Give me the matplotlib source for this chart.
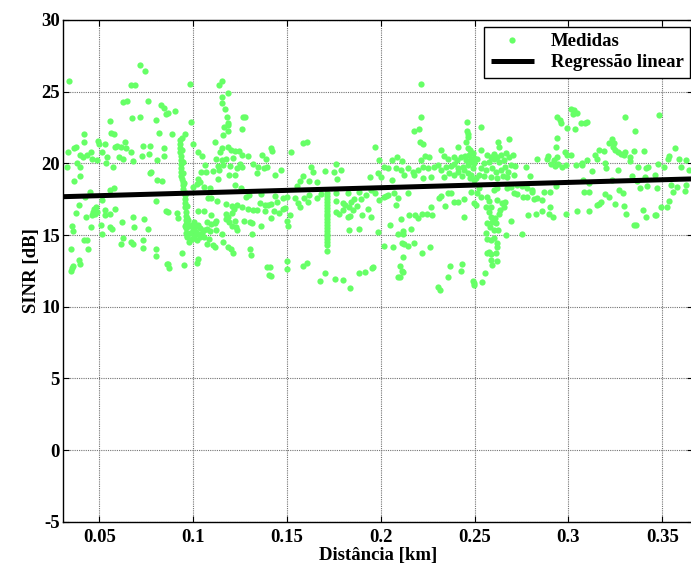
import numpy as np
import matplotlib
matplotlib.use("Agg")
import matplotlib.pyplot as plt

plt.rcParams['font.family'] = ['Liberation Serif', 'DejaVu Serif']
plt.rcParams['font.weight'] = 'bold'
plt.rcParams['axes.unicode_minus'] = False

# Measured SINR points (distance in km, SINR in dB), grouped by distance band
band_1 = [
    (0.0340, 25.77), (0.0715, 26.88), (0.0745, 26.42), (0.0670, 25.44), (0.0692, 25.44),
    (0.0624, 24.26), (0.0647, 24.33), (0.0761, 24.33), (0.0829, 24.07), (0.0846, 23.84), (0.0857, 23.47),
    (0.0557, 22.93), (0.0676, 23.14), (0.0717, 23.21), (0.0800, 23.00), (0.0818, 22.12),
    (0.0564, 22.14), (0.0580, 22.02), (0.0420, 22.02), (0.0420, 21.51), (0.0491, 21.53), (0.0500, 21.35), (0.0528, 21.37),
    (0.0365, 21.05), (0.0376, 21.12), (0.0333, 20.77), (0.0397, 20.60), (0.0415, 20.46), (0.0436, 20.60), (0.0454, 20.77),
    (0.0516, 20.77), (0.0541, 20.46), (0.0461, 20.30), (0.0486, 20.23), (0.0585, 21.12), (0.0594, 21.23),
    (0.0615, 21.12), (0.0638, 21.47), (0.0644, 21.05), (0.0670, 20.77), (0.0607, 20.46), (0.0626, 20.33), (0.0681, 20.19),
    (0.0733, 21.21), (0.0772, 21.21), (0.0727, 20.54), (0.0763, 20.63), (0.0805, 20.26), (0.0843, 21.05), (0.0843, 20.54),
    (0.0328, 19.72), (0.0381, 20.00), (0.0395, 19.72), (0.0534, 20.05), (0.0573, 19.72), (0.0399, 19.14), (0.0363, 18.74),
    (0.0768, 19.35), (0.0777, 19.42), (0.0807, 18.84), (0.0836, 18.74), (0.0555, 18.14), (0.0580, 18.28),
    (0.0448, 17.98), (0.0425, 17.67), (0.0516, 17.42), (0.0802, 17.35), (0.0390, 17.09), (0.0482, 16.95), (0.0472, 16.79),
    (0.0532, 16.72), (0.0585, 16.81), (0.0374, 16.51), (0.0466, 16.63), (0.0479, 16.49), (0.0461, 16.37), (0.0486, 16.61),
    (0.0532, 16.37), (0.0557, 16.44), (0.0427, 16.23), (0.0853, 16.65), (0.0681, 16.23), (0.0738, 16.14), (0.0622, 15.91),
    (0.0353, 15.65), (0.0358, 15.30), (0.0454, 15.53), (0.0511, 15.70), (0.0557, 15.53), (0.0567, 15.42), (0.0686, 15.53),
    (0.0759, 15.40), (0.0516, 15.09), (0.0418, 14.65), (0.0436, 14.65), (0.0624, 14.79), (0.0617, 14.37), (0.0670, 14.51),
    (0.0678, 14.37), (0.0733, 14.65), (0.0733, 14.12), (0.0347, 14.05), (0.0441, 14.05), (0.0800, 14.05), (0.0802, 13.54),
    (0.0393, 13.23), (0.0399, 12.98), (0.0361, 12.84), (0.0354, 12.70), (0.0349, 12.49), (0.0862, 12.98),
]

band_2 = [
    (0.0986, 25.54), (0.1136, 25.44), (0.1155, 25.74), (0.1187, 24.93), (0.1152, 24.65), (0.1156, 24.23), (0.1170, 23.81),
    (0.0864, 23.49), (0.0903, 23.67), (0.0989, 22.86), (0.1182, 23.23), (0.1187, 22.84), (0.1187, 22.65),
    (0.1267, 23.21), (0.1278, 23.21), (0.1262, 22.40), (0.1163, 22.56), (0.1157, 21.95), (0.1184, 22.26),
    (0.0887, 22.05), (0.0957, 22.05), (0.1001, 21.35), (0.1115, 21.47), (0.1024, 20.77), (0.1049, 20.54),
    (0.1143, 20.81), (0.1156, 21.05), (0.1187, 21.12), (0.1200, 20.93), (0.1223, 20.88), (0.1244, 20.88), (0.1262, 20.58), (0.1294, 20.54),
    (0.1122, 20.28), (0.1156, 20.23), (0.1175, 20.28), (0.1214, 20.40), (0.1317, 19.93), (0.1388, 20.33), (0.1365, 20.58),
    (0.1063, 19.86), (0.1134, 19.81), (0.1161, 19.88), (0.1196, 19.81), (0.1250, 19.93), (0.1258, 19.77), (0.1232, 19.65),
    (0.1347, 19.77), (0.1376, 19.65), (0.1392, 19.72), (0.1042, 19.42), (0.1068, 19.37), (0.1104, 19.44), (0.1140, 19.53),
    (0.1191, 19.16), (0.1223, 19.19), (0.1338, 19.35), (0.1131, 18.93), (0.1028, 18.91), (0.1035, 18.67), (0.1021, 18.53), (0.0999, 18.37),
    (0.1223, 18.47), (0.1257, 18.26), (0.1060, 18.33), (0.1088, 18.28), (0.1283, 17.67), (0.1298, 17.77), (0.1362, 17.86),
    (0.1081, 17.60), (0.1095, 17.58), (0.1127, 17.35), (0.1173, 17.16), (0.1209, 17.02), (0.1232, 17.09), (0.1216, 16.79),
    (0.1262, 16.98), (0.1290, 16.84), (0.1358, 17.26), (0.1383, 17.09), (0.1401, 17.07), (0.1317, 16.74), (0.1338, 16.74), (0.1383, 16.70),
    (0.1028, 16.70), (0.1056, 16.70), (0.1095, 16.40), (0.1177, 16.44), (0.1187, 16.28), (0.1205, 16.51),
    (0.1124, 15.95), (0.1116, 15.81), (0.1074, 15.88), (0.1097, 15.74), (0.1173, 16.09), (0.1193, 15.88), (0.1223, 16.00),
    (0.1269, 15.98), (0.1305, 15.88), (0.1315, 15.81), (0.1362, 15.65), (0.0921, 16.16), (0.0916, 16.51), (0.0864, 16.63),
    (0.1205, 15.63), (0.1227, 15.58), (0.1234, 15.35), (0.1120, 15.35), (0.1074, 15.42), (0.1090, 15.30),
    (0.1152, 15.05), (0.1157, 14.51), (0.1314, 15.05), (0.1035, 14.88), (0.1058, 14.88),
    (0.1086, 14.70), (0.1072, 14.37), (0.1104, 14.28), (0.1116, 14.19), (0.1187, 14.19), (0.1200, 14.05), (0.1214, 13.77),
    (0.1303, 14.05), (0.1308, 13.63), (0.1028, 13.30), (0.1022, 13.02), (0.0942, 13.77), (0.0949, 12.88),
    (0.0868, 12.98), (0.0873, 12.70), (0.1395, 12.74), (0.1406, 12.21),
]

# Stationary run near 0.095 km
band_2_streak = [
    (0.0930, 21.63), (0.0930, 21.35), (0.0931, 21.07), (0.0932, 20.79), (0.0935, 20.51), (0.0935, 20.23),
    (0.0936, 19.95), (0.0936, 19.67), (0.0938, 19.40), (0.0938, 19.12), (0.0939, 18.88), (0.0945, 18.70),
    (0.0946, 18.47), (0.0947, 18.23), (0.0948, 18.00), (0.0955, 17.79), (0.0956, 17.49), (0.0957, 17.21),
    (0.0958, 16.93), (0.0962, 16.63), (0.0962, 16.33), (0.0963, 16.05), (0.0963, 15.77), (0.0964, 15.47),
    (0.0964, 15.16), (0.0965, 14.88),
    (0.0942, 21.80), (0.0940, 20.90), (0.0944, 20.10), (0.0946, 19.30), (0.0952, 18.60), (0.0960, 17.90),
    (0.0966, 17.00), (0.0970, 16.20),
    (0.0965, 15.81), (0.0978, 15.63), (0.0992, 15.72), (0.1010, 15.58), (0.1024, 15.67), (0.1035, 15.47),
    (0.0999, 15.35), (0.1017, 15.23), (0.0985, 15.12), (0.0967, 14.93), (0.1006, 14.93), (0.1028, 15.07),
    (0.1045, 15.12), (0.1060, 15.35), (0.0978, 14.53), (0.0992, 14.70), (0.1021, 14.65), (0.0957, 15.63),
    (0.0974, 16.05), (0.1003, 15.93),
]

band_3 = [
    (0.1413, 21.07), (0.1420, 20.88), (0.1523, 20.77), (0.1587, 21.42), (0.1607, 21.51),
    (0.1466, 19.51), (0.1438, 19.21), (0.1626, 19.72), (0.1639, 19.40), (0.1701, 19.44), (0.1763, 19.95), (0.1751, 19.37),
    (0.1790, 19.51), (0.1768, 18.91), (0.1584, 19.12), (0.1570, 18.79), (0.1616, 18.77), (0.1662, 18.70), (0.1944, 19.07),
    (0.1555, 18.42), (0.1438, 17.72), (0.1479, 17.60), (0.1502, 17.67), (0.1541, 17.58), (0.1559, 17.26), (0.1570, 16.98),
    (0.1591, 17.60), (0.1619, 17.77), (0.1614, 17.33), (0.1662, 17.60), (0.1683, 17.86), (0.1761, 17.95), (0.1763, 17.35),
    (0.1825, 17.95), (0.1839, 17.30), (0.1855, 17.53), (0.1882, 17.98), (0.1896, 17.49), (0.1921, 17.77),
    (0.1413, 17.14), (0.1445, 17.28), (0.1431, 16.70), (0.1456, 16.56), (0.1479, 16.79), (0.1413, 16.16),
    (0.1491, 16.86), (0.1514, 16.37), (0.1502, 16.00), (0.1506, 15.63),
    (0.1800, 17.21), (0.1811, 17.09), (0.1832, 16.98), (0.1799, 16.72), (0.1763, 16.63), (0.1776, 16.47), (0.1834, 16.35),
    (0.1827, 16.23), (0.1875, 17.05), (0.1854, 16.74), (0.1902, 16.40), (0.1932, 16.79), (0.1829, 15.35), (0.1882, 15.40),
    (0.1502, 13.19), (0.1502, 12.60), (0.1408, 12.74), (0.1413, 12.14), (0.1587, 12.86), (0.1609, 13.02),
    (0.1704, 12.37), (0.1678, 11.77), (0.1758, 11.93), (0.1797, 11.88), (0.1838, 11.28), (0.1882, 12.33),
    (0.1918, 12.42), (0.1953, 12.70),
]

# Stationary run near 0.171 km
band_3_streak = [
    (0.1713, 17.90), (0.1713, 17.70), (0.1713, 17.50), (0.1713, 17.30), (0.1713, 17.10), (0.1713, 16.90),
    (0.1713, 16.70), (0.1713, 16.50), (0.1713, 16.30), (0.1713, 16.10), (0.1713, 15.90), (0.1713, 15.70),
    (0.1713, 15.50), (0.1713, 15.30), (0.1713, 15.10), (0.1713, 14.90), (0.1714, 14.70), (0.1714, 14.50),
    (0.1714, 14.30), (0.1712, 13.88),
]

band_4 = [
    (0.2214, 25.54), (0.2214, 23.21), (0.2179, 22.26), (0.2202, 22.40), (0.2211, 21.47), (0.2225, 21.35), (0.1969, 21.12),
    (0.2458, 22.86), (0.2460, 22.26), (0.2462, 22.05), (0.2466, 21.81), (0.2456, 21.51), (0.2466, 21.09), (0.2474, 20.93),
    (0.2321, 20.93), (0.2413, 21.12), (0.2058, 20.23), (0.2087, 20.46), (0.2115, 20.19), (0.1991, 20.23),
    (0.2214, 20.23), (0.2236, 20.51), (0.2259, 20.44),
    (0.2339, 20.54), (0.2357, 20.33), (0.2388, 20.46), (0.2406, 20.23), (0.2428, 20.46), (0.2447, 20.51), (0.2481, 20.33), (0.2490, 20.70),
    (0.2015, 19.72), (0.2037, 19.65), (0.2083, 19.65), (0.2108, 19.53),
    (0.2143, 19.65), (0.2170, 19.42), (0.2197, 19.53), (0.2223, 19.77), (0.2250, 19.65), (0.2282, 19.72),
    (0.2303, 19.86), (0.2321, 19.53), (0.2348, 19.72), (0.2374, 19.81), (0.2392, 19.95), (0.2413, 19.65), (0.2436, 19.77),
    (0.2467, 19.88), (0.2490, 19.65),
    (0.1984, 19.30), (0.2001, 19.07), (0.2058, 18.84), (0.2126, 19.19), (0.2179, 19.19), (0.2223, 18.95), (0.2268, 19.02),
    (0.2335, 19.02), (0.2388, 19.19), (0.2431, 19.12), (0.2477, 18.95), (0.2365, 19.35), (0.2413, 19.42),
    (0.1948, 18.14), (0.1969, 17.91), (0.2037, 17.79), (0.2072, 17.95), (0.2090, 17.56), (0.2143, 17.91),
    (0.1992, 17.44), (0.2015, 17.67), (0.2028, 17.72),
    (0.2309, 17.56), (0.2321, 17.72), (0.2357, 17.91), (0.2374, 17.95), (0.2392, 17.33), (0.2410, 17.33), (0.2481, 18.02),
    (0.2342, 17.02), (0.2445, 17.51), (0.2499, 17.21), (0.2268, 16.98), (0.2081, 17.09), (0.1948, 16.28),
    (0.2152, 16.37), (0.2184, 16.37), (0.2197, 16.16), (0.2220, 16.47), (0.2246, 16.47), (0.2275, 16.37),
    (0.2108, 16.14), (0.2049, 15.70), (0.1984, 15.23), (0.2161, 15.40), (0.2094, 15.09), (0.2120, 15.28), (0.2117, 15.07),
    (0.2445, 16.23),
    (0.2019, 14.23), (0.2065, 14.14), (0.2111, 14.47), (0.2126, 14.37), (0.2143, 14.23), (0.2179, 14.42),
    (0.2264, 14.14), (0.2218, 13.77), (0.2118, 13.44), (0.1957, 12.74),
    (0.2104, 12.84), (0.2111, 12.51), (0.2120, 12.42), (0.2101, 12.09), (0.2090, 12.05),
    (0.2371, 12.84), (0.2360, 12.05), (0.2431, 12.98), (0.2428, 12.49), (0.2303, 11.40), (0.2316, 11.16),
    (0.2492, 11.77), (0.2499, 11.49),
    (0.2454, 20.23), (0.2472, 20.58), (0.2481, 20.12), (0.2499, 20.00), (0.2445, 19.53), (0.2463, 19.30),
    (0.2481, 19.19), (0.2495, 18.84),
]

band_5 = [
    (0.2533, 22.56), (0.2685, 21.67), (0.2625, 21.47), (0.2630, 21.12), (0.2536, 20.93), (0.2497, 20.35),
    (0.2568, 20.58), (0.2586, 20.46), (0.2604, 20.65), (0.2621, 20.42), (0.2639, 20.58), (0.2666, 20.74), (0.2682, 20.42), (0.2707, 20.58),
    (0.2515, 20.28), (0.2550, 20.00), (0.2577, 20.12), (0.2604, 20.28), (0.2630, 20.12), (0.2657, 20.23), (0.2696, 19.88), (0.2714, 19.81),
    (0.2533, 19.65), (0.2559, 19.53), (0.2595, 19.65), (0.2612, 19.42), (0.2639, 19.53), (0.2660, 19.72), (0.2680, 19.42),
    (0.2524, 19.19), (0.2550, 19.12), (0.2586, 19.07), (0.2621, 18.95), (0.2650, 19.12), (0.2675, 19.02), (0.2710, 19.19),
    (0.2772, 19.77), (0.2794, 19.14), (0.2834, 20.28), (0.2884, 20.33), (0.2891, 20.51),
    (0.2909, 19.95), (0.2929, 19.81), (0.2946, 19.93), (0.2968, 19.77), (0.2985, 19.88), (0.3016, 20.58), (0.3039, 19.88), (0.3074, 20.00),
    (0.2923, 20.23), (0.2937, 20.46), (0.2980, 20.81), (0.2991, 20.58), (0.2937, 21.74), (0.2932, 21.12),
    (0.2941, 23.21), (0.2959, 22.79), (0.2955, 23.00), (0.3012, 23.81), (0.3030, 23.72), (0.3048, 23.49), (0.3026, 23.44), (0.3065, 22.84),
    (0.2994, 22.44), (0.3033, 22.40),
    (0.2506, 18.95), (0.2524, 18.26), (0.2511, 17.91), (0.2533, 17.63), (0.2506, 17.09),
    (0.2564, 17.63), (0.2577, 17.40), (0.2559, 16.98), (0.2586, 16.98), (0.2577, 16.63),
    (0.2604, 18.14), (0.2621, 18.26), (0.2671, 18.30), (0.2696, 18.37), (0.2724, 18.49), (0.2755, 18.42), (0.2781, 18.26),
    (0.2808, 18.14), (0.2831, 17.56), (0.2808, 18.02),
    (0.2621, 17.44), (0.2644, 17.26), (0.2660, 17.33), (0.2636, 16.74), (0.2630, 16.47), (0.2657, 16.98),
    (0.2710, 17.95), (0.2724, 17.86), (0.2760, 17.63), (0.2781, 17.67), (0.2817, 17.49),
    (0.2586, 16.28), (0.2595, 15.93), (0.2607, 16.16), (0.2568, 15.86), (0.2582, 15.58), (0.2612, 15.81), (0.2604, 15.35), (0.2625, 15.35),
    (0.2696, 16.00), (0.2666, 15.00), (0.2755, 15.05),
    (0.2787, 16.40), (0.2826, 16.47), (0.2861, 16.70), (0.2902, 16.98), (0.2920, 16.23), (0.2897, 16.47), (0.2985, 16.44), (0.3048, 16.70),
    (0.2861, 17.44), (0.2870, 18.02), (0.2932, 18.42), (0.2902, 18.02),
    (0.2559, 15.12), (0.2568, 14.70), (0.2589, 14.65), (0.2604, 14.77), (0.2621, 14.47), (0.2618, 14.19), (0.2577, 13.84),
    (0.2568, 13.72), (0.2586, 13.67), (0.2612, 13.77), (0.2589, 13.26), (0.2595, 12.91), (0.2618, 13.19),
    (0.2554, 12.33), (0.2541, 11.74), (0.2497, 11.63),
]

band_6 = [
    (0.3090, 22.84), (0.3097, 22.86), (0.3299, 23.21), (0.3356, 22.26), (0.3480, 23.37),
    (0.3214, 21.40), (0.3232, 21.67), (0.3243, 21.44), (0.3239, 21.12), (0.3250, 20.93), (0.3264, 20.81), (0.3282, 20.65),
    (0.3294, 20.58), (0.3303, 20.81), (0.3164, 20.93), (0.3191, 20.86), (0.3143, 20.58), (0.3150, 20.28),
    (0.3330, 20.46), (0.3330, 20.16), (0.3347, 20.86), (0.3402, 20.86),
    (0.3566, 21.05), (0.3537, 20.51), (0.3530, 20.28), (0.3587, 20.28), (0.3626, 20.23), (0.3099, 20.23), (0.3072, 19.88),
    (0.3196, 20.00), (0.3200, 19.70), (0.3264, 19.53), (0.3370, 19.72), (0.3413, 19.70), (0.3424, 19.72),
    (0.3477, 19.95), (0.3507, 19.72), (0.3601, 19.72), (0.3640, 19.53), (0.3125, 19.49), (0.3076, 18.84), (0.3111, 18.65),
    (0.3338, 19.12), (0.3406, 19.07), (0.3463, 19.21), (0.3232, 18.84), (0.3365, 18.79),
    (0.3081, 18.02), (0.3111, 18.02), (0.3196, 17.86), (0.3218, 17.63), (0.3267, 18.14), (0.3289, 17.95),
    (0.3383, 18.26), (0.3420, 18.44), (0.3472, 18.26), (0.3548, 18.47), (0.3578, 18.33), (0.3555, 18.02), (0.3626, 18.47), (0.3623, 18.05),
    (0.3111, 16.70), (0.3152, 17.09), (0.3164, 17.16), (0.3175, 17.33),
    (0.3250, 17.14), (0.3294, 17.02), (0.3395, 16.74), (0.3413, 16.23), (0.3459, 16.40), (0.3466, 16.40),
    (0.3308, 16.44), (0.3347, 15.72), (0.3362, 15.72), (0.3495, 16.98), (0.3525, 16.98), (0.3537, 17.40),
]

# Fitted linear regression: SINR = intercept + slope * distance
reg_intercept = 17.56
reg_slope = 3.70

x_range = (0.0305, 0.3665)
y_range = (-5, 30)
x_ticks = [0.05, 0.10, 0.15, 0.20, 0.25, 0.30, 0.35]
x_tick_labels = ['0.05', '0.1', '0.15', '0.2', '0.25', '0.3', '0.35']
y_ticks = [-5, 0, 5, 10, 15, 20, 25, 30]
series_labels = ['Medidas', 'Regressão linear']

measurements = np.array(band_1 + band_2 + band_2_streak + band_3 + band_3_streak
                        + band_4 + band_5 + band_6)
dist = measurements[:, 0]
sinr = measurements[:, 1]

FS = 13.5

fig = plt.figure(figsize=(6.91, 5.68), dpi=100)
ax = fig.add_axes([0.0907, 0.0815, 0.9126, 0.8833])

ax.plot(dist, sinr, 'o', ms=4.5, color='#66FF66', mec='none',
        label=series_labels[0], zorder=3)

fit_x = np.array(x_range)
fit_y = reg_intercept + reg_slope * fit_x
ax.plot(fit_x, fit_y, '-', color='black', lw=3.6, solid_capstyle='butt',
        label=series_labels[1], zorder=4)

ax.set_xlim(*x_range)
ax.set_ylim(*y_range)
ax.set_xticks(x_ticks)
ax.set_xticklabels(x_tick_labels)
ax.set_yticks(y_ticks)

ax.grid(True, color='0.45', linestyle=(0, (1, 1)), linewidth=0.8)
ax.set_axisbelow(True)
ax.tick_params(direction='in', length=4, width=0.8, top=True, right=True,
               labelsize=FS, colors='black')
ax.tick_params(axis='x', pad=5)
ax.tick_params(axis='y', pad=2)
for s in ax.spines.values():
    s.set_linewidth(1.0)

ax.set_xlabel('Distância [km]', fontsize=FS, fontweight='bold', labelpad=1)
ax.set_ylabel('SINR [dB]', fontsize=FS, fontweight='bold', labelpad=1)

leg = ax.legend(loc='upper left', bbox_to_anchor=(484 / 691, 1 - 26.7 / 568),
                bbox_transform=fig.transFigure, fontsize=FS, frameon=True,
                fancybox=False, shadow=False, borderaxespad=0, borderpad=0.35,
                handlelength=2.3, handletextpad=0.9, labelspacing=0.2,
                numpoints=1)
leg.get_frame().set_edgecolor('black')
leg.get_frame().set_linewidth(1.0)
leg.get_frame().set_alpha(1.0)

fig.savefig('out.png', dpi=100)
